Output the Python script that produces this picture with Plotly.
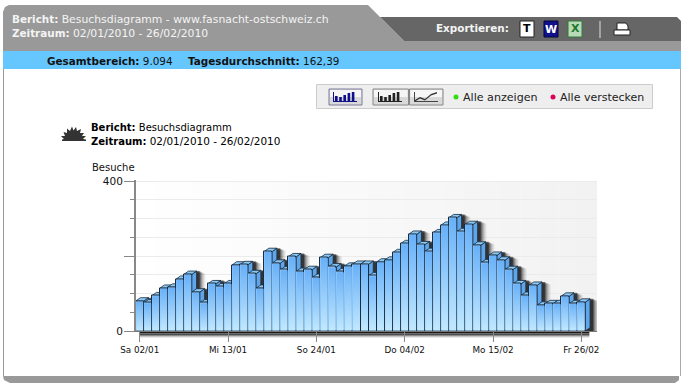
import plotly.graph_objects as go

VISITS = [80, 75, 94, 114, 117, 138, 151, 104, 75, 126, 118, 126, 176, 177, 153, 114, 212, 181, 163, 198,
          159, 164, 143, 196, 171, 158, 173, 178, 178, 147, 184, 189, 209, 233, 258, 230, 212, 262, 282, 302,
          265, 284, 229, 182, 202, 189, 164, 126, 95, 122, 69, 73, 73, 93, 73, 77]
X_TICK_POS = [0, 11, 22, 33, 44, 55]
X_TICK_LABELS = ["Sa 02/01", "Mi 13/01", "So 24/01", "Do 04/02", "Mo 15/02", "Fr 26/02"]
Y_MAJOR = [0, 200, 400]
Y_LABELS = ["0", "", "400"]
Y_MINOR = [50, 100, 150, 250, 300, 350]

W, H = 686, 388
FONT = "DejaVu Sans"
PX_L, PX_R, PX_T, PX_B = 136.0, 597.0, 181.0, 331.0
DAY_PX = 8.03
X0_PX = 139.7
UNIT_PX = (PX_B - PX_T) / 400
DX = 4.7 / DAY_PX
DY = 3.3 / UNIT_PX
xr = [(PX_L - X0_PX) / DAY_PX, (PX_R - X0_PX) / DAY_PX]


def px(x): return x / W
def py(y): return 1 - y / H


shapes, ann = [], []


def rect(x0, y0, x1, y1, fill, line=None, lw=1, layer="below"):
    shapes.append(dict(type="rect", xref="paper", yref="paper", x0=px(x0), x1=px(x1), y0=py(y0), y1=py(y1),
                       fillcolor=fill, line=dict(color=line or "rgba(0,0,0,0)", width=lw if line else 0), layer=layer))


def poly(points, fill, line=None, lw=1, layer="below"):
    d = "M" + " L".join(f"{px(a):.5f},{py(b):.5f}" for a, b in points) + " Z"
    shapes.append(dict(type="path", xref="paper", yref="paper", path=d, fillcolor=fill,
                       line=dict(color=line or "rgba(0,0,0,0)", width=lw if line else 0), layer=layer))


def text(x, y, s, size=11, color="#000", anchor="left", layer_y="middle"):
    ann.append(dict(xref="paper", yref="paper", x=px(x), y=py(y), text=s, showarrow=False, xanchor=anchor,
                    yanchor=layer_y, font=dict(family=FONT, size=size, color=color), borderpad=0, borderwidth=0))


def reg(s, size):
    return f"<span style='font-size:{size}px'>{s}</span>"


# page chrome
GREY, DARK, BLUE = "#999999", "#666666", "#66c7ff"
poly([(3, 12), (5, 7), (9, 5), (368, 5), (404, 41), (681, 41), (681, 51), (3, 51)], GREY)
poly([(380, 17), (677, 17), (681, 21), (681, 41), (404, 41)], DARK)
rect(3, 51, 681, 69, BLUE)
rect(3, 69, 4, 376, GREY)
rect(680, 69, 681, 376, "#aaaaaa")
poly([(3, 376), (679, 376), (679, 380), (675, 383), (10, 383), (4, 380)], GREY)

text(12, 19.5, "<b>Bericht:</b> " + reg("Besuchsdiagramm - www.fasnacht-ostschweiz.ch", 10.85), color="#f4f4f4", size=10.4)
text(12, 33, "<b>Zeitraum:</b> " + reg("02/01/2010 - 26/02/2010", 10.8), color="#f4f4f4", size=10.4)
text(47, 60.5, "<b>Gesamtbereich:</b> 9.094", color="#111", size=10.4)
text(188, 60.5, "<b>Tagesdurchschnitt:</b> 162,39", color="#111", size=10.4)
text(436, 28, "<b>Exportieren:</b>", color="#f4f4f4", size=10.4)

# export icons
rect(520, 21, 534, 37, "#ffffff", "#222222", 1)
text(527, 29, "<b>T</b>", size=11, color="#000", anchor="center")
rect(544, 21, 558, 37, "#10108a", "#060640", 1)
text(551, 30, "<b>W</b>", size=11, color="#ffffff", anchor="center")
rect(568, 21, 582, 37, "#b9d9b9", "#2e7d32", 1)
text(575, 29, "<b>X</b>", size=11, color="#1f7a2e", anchor="center")
rect(599.5, 21, 600.5, 38, "#dddddd")
poly([(617, 23), (626, 23), (628, 26), (628, 30), (617, 30)], "#ffffff", "#222222", 1)
rect(614, 30, 630, 35, "#ffffff", "#222222", 1)

# toolbar
rect(316.5, 84.5, 652.5, 108.5, "#eeeeee", "#cccccc", 1)


def button(x0, x1, edge="#888888"):
    rect(x0, 89, x1, 105, "#d9d9d9", edge, 1)
    rect(x0 + 1, 90, x1 - 1, 97, "#f6f6f6")


def minibars(x0, color):
    for i, hh in enumerate((5, 4, 6, 8, 9)):
        rect(x0 + i * 4.2, 101 - hh, x0 + i * 4.2 + 2.6, 101, color)
    rect(x0 - 2, 101, x0 + 22, 102, color)
    rect(x0 - 2, 92, x0 - 1, 102, color)


button(329, 362, "#7a7a9a")
minibars(335, "#10108a")
button(373, 408.5)
minibars(380, "#222222")
button(409.5, 443)
poly([(415, 100), (420, 97), (425, 99), (431, 94), (437, 92), (437, 93.4), (431, 95.4), (425, 100.4), (420, 98.4), (415, 101.4)], "#333333")
rect(414, 101, 438, 102, "#444444")
rect(414, 92, 415, 102, "#444444")
shapes.append(dict(type="circle", xref="paper", yref="paper", x0=px(453.5), x1=px(458.5), y0=py(99.5), y1=py(94.5),
                   fillcolor="#33dd11", line=dict(width=0), layer="below"))
shapes.append(dict(type="circle", xref="paper", yref="paper", x0=px(550.5), x1=px(555.5), y0=py(99.5), y1=py(94.5),
                   fillcolor="#dd0055", line=dict(width=0), layer="below"))
text(463, 97, "Alle anzeigen", color="#222222", size=11.1)
text(560, 97, "Alle verstecken", color="#222222", size=11)

# report block
text(91, 127.5, "<b>Bericht:</b> Besuchsdiagramm", color="#000", size=10)
text(91, 140.5, "<b>Zeitraum:</b> " + reg("02/01/2010 - 26/02/2010", 10.45), color="#000", size=10)
sun = [(62, 141), (62, 139.5), (64, 139), (61, 136), (65, 136), (63.5, 132), (67, 133), (67, 128.5), (70, 131), (72, 126.5),
       (73.5, 130.5), (76, 127), (77, 131), (81, 129), (80, 133), (84, 133), (82, 136), (86, 136), (83, 139), (86, 139.5), (86, 141)]
poly(sun, "#333333")
text(92, 167, "Besuche", color="#111", size=10)

# plot background, left white to right pale grey
N_STRIP = 24
for k in range(N_STRIP):
    g = 255 - round(13 * k / (N_STRIP - 1))
    x0 = xr[0] + (xr[1] - xr[0]) * k / N_STRIP
    x1 = xr[0] + (xr[1] - xr[0]) * (k + 1) / N_STRIP + 0.02
    shapes.append(dict(type="rect", xref="x", yref="y", x0=x0, x1=x1, y0=0, y1=400,
                       fillcolor=f"rgb({g},{g},{g})", line=dict(width=0), layer="below"))

# soft shadow behind the bars, built from the values
n = len(VISITS)
for off, a in ((9, .05), (8, .07), (7, .09), (6, .13), (5, .2), (4, .3), (3, .45)):
    sx = (off) / DAY_PX
    sy = (off - 3) * 0.4 / UNIT_PX
    pts = [(-0.5 + sx + DX, 0)]
    for i, v in enumerate(VISITS):
        top = max(v + DY - sy, 0)
        pts += [(i - 0.5 + sx + DX, top), (i + 0.5 + sx + DX, top)]
    pts += [(n - 0.5 + sx + DX, 0)]
    d = "M" + " L".join(f"{a_:.3f},{b_:.2f}" for a_, b_ in pts) + " Z"
    shapes.append(dict(type="path", xref="x", yref="y", path=d, fillcolor=f"rgba(0,0,0,{a})",
                       line=dict(width=0), layer="between"))

# part of the shadow that falls below the baseline
SH_L = X0_PX - 0.5 * DAY_PX + 4
SH_R = X0_PX + (n - 0.5) * DAY_PX + 4
for y0, y1, c in ((331.5, 333.5, "#1a1a1a"), (333.5, 335, "#4d4d4d"), (335, 336, "#8a8a8a"), (336, 337, "#c4c4c4"), (337, 338, "#e8e8e8")):
    rect(SH_L, y0, SH_R, y1, c, layer="below")

# 3D side faces and tops
OUT = "#1a2c40"
for i, v in enumerate(VISITS):
    r = i + 0.5
    d = f"M{r:.3f},0 L{r:.3f},{v} L{r + DX:.3f},{v + DY:.2f} L{r + DX:.3f},{DY:.2f} Z"
    shapes.append(dict(type="path", xref="x", yref="y", path=d, fillcolor="#5ea5ea",
                       line=dict(color=OUT, width=0.8), layer="between"))
for i, v in enumerate(VISITS):
    l, r = i - 0.5, i + 0.5
    d = f"M{l:.3f},{v} L{l + DX:.3f},{v + DY:.2f} L{r + DX:.3f},{v + DY:.2f} L{r:.3f},{v} Z"
    shapes.append(dict(type="path", xref="x", yref="y", path=d, fillcolor="#8ccaf6",
                       line=dict(color=OUT, width=0.8), layer="between"))

fig = go.Figure()
fig.add_trace(go.Bar(x=list(range(n)), y=VISITS, width=1, name="Besuche", cliponaxis=False,
                     marker=dict(color="#8cc4f8", line=dict(color=OUT, width=1))))

# per-bar vertical gradient on the front faces
inx = 0.55 / DAY_PX
iny = 0.6 / UNIT_PX
for i, v in enumerate(VISITS):
    fig.add_trace(go.Scatter(
        x=[i - 0.5 + inx, i + 0.5 - inx, i + 0.5 - inx, i - 0.5 + inx, i - 0.5 + inx],
        y=[iny, iny, v - iny, v - iny, iny], mode="lines", fill="toself", line=dict(width=0),
        hoverinfo="skip", showlegend=False,
        fillcolor="rgba(0,0,0,0)",
        fillgradient=dict(type="vertical", start=0, stop=v,
                          colorscale=[[0, "#c2e9ff"], [1, "#68b0f8"]])))

fig.update_layout(
    width=W, height=H, margin=dict(l=0, r=0, t=0, b=0, pad=0, autoexpand=False), showlegend=False, autosize=False,
    paper_bgcolor="#ffffff", plot_bgcolor="rgba(0,0,0,0)", shapes=shapes, annotations=ann, bargap=0,
    font=dict(family=FONT, color="#111111"),
    xaxis=dict(domain=[px(PX_L), px(PX_R)], range=xr, tickmode="array", tickvals=X_TICK_POS, ticktext=X_TICK_LABELS,
               ticks="outside", ticklen=10, tickcolor="#888888", tickwidth=1, showgrid=False, zeroline=False,
               showline=True, linecolor="#777777", linewidth=1, tickfont=dict(size=8.8, family=FONT, color="#111111")),
    yaxis=dict(domain=[py(PX_B), py(PX_T - 1.5)], range=[0, 400 + 1.5 / UNIT_PX], tickmode="array", tickvals=Y_MAJOR,
               ticktext=Y_LABELS, ticks="outside", ticklen=10, tickcolor="#888888", tickwidth=1, ticklabelstandoff=-1,
               showgrid=True, gridcolor="#ebebeb", gridwidth=1, zeroline=False, showline=True, linecolor="#888888",
               linewidth=2, tickfont=dict(size=10.5, family=FONT, color="#111111"),
               minor=dict(tickvals=Y_MINOR, ticks="outside", ticklen=4, tickcolor="#888888", tickwidth=1,
                          showgrid=True, gridcolor="#ebebeb", gridwidth=1)),
)
fig.write_html("out.html", config=dict(displayModeBar=False, responsive=False),
               post_script="document.body.style.margin='0';document.documentElement.style.overflow='hidden';")
